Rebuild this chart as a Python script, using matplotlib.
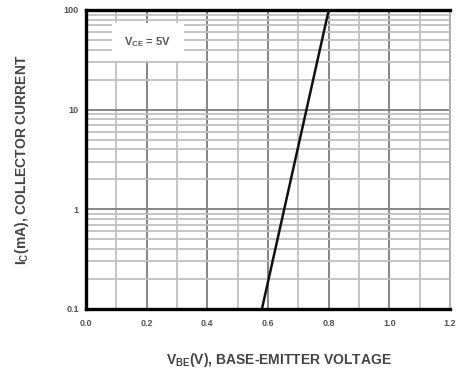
import matplotlib
matplotlib.use("Agg")
import matplotlib.pyplot as plt
import numpy as np
from matplotlib.ticker import FixedLocator, NullFormatter
from matplotlib.patches import Rectangle

vbe = [0.58, 0.80]
ic = [0.1, 100]
xticks = [0.0, 0.2, 0.4, 0.6, 0.8, 1.0, 1.2]
xticklabels = ["0.0", "0.2", "0.4", "0.6", "0.8", "1.0", "1.2"]
yticks = [0.1, 1, 10, 100]
yticklabels = ["0.1", "1", "10", "100"]

plt.rcParams['font.family'] = ['Liberation Sans', 'DejaVu Sans']
fig = plt.figure(figsize=(4.57, 3.69), dpi=100)
ax = fig.add_axes([0.188, 0.163, 0.797, 0.81])
ax.set_yscale('log')
ax.set_xlim(0, 1.2)
ax.set_ylim(0.1, 100)

# grid
xminor = np.arange(0.1, 1.2, 0.2)
ax.xaxis.set_minor_locator(FixedLocator(xminor))
yminor = [m * 10.0 ** d for d in range(-1, 2) for m in range(2, 10)]
ax.yaxis.set_minor_locator(FixedLocator(yminor))
ax.yaxis.set_minor_formatter(NullFormatter())
ax.grid(which='minor', color='#c0c0c0', lw=1.3, zorder=0)
ax.grid(which='major', color='#858585', lw=1.4, zorder=0)
ax.set_axisbelow(True)

ax.set_xticks(xticks)
ax.set_xticklabels(xticklabels)
ax.set_yticks(yticks)
ax.set_yticklabels(yticklabels)
ax.tick_params(which='both', length=0, labelsize=6.5)
ax.tick_params(axis='x', pad=7)
ax.tick_params(axis='y', pad=5)
for lbl in ax.get_xticklabels() + ax.get_yticklabels():
    lbl.set_fontweight('bold')
    lbl.set_color('#555555')

for s in ['top', 'left', 'bottom']:
    ax.spines[s].set_linewidth(2.4)
    ax.spines[s].set_color('black')
ax.spines['right'].set_color('#b0b0b0')
ax.spines['right'].set_linewidth(1.4)

ax.plot(vbe, ic, color='#111111', lw=1.8, zorder=3)

ax.add_patch(Rectangle((0.071, 0.829), 0.198, 0.128, transform=ax.transAxes,
                       fc='white', ec='none', zorder=2.5))
ax.text(0.17, 0.893, r"V$_{\mathregular{CE}}$ = 5V", transform=ax.transAxes,
        fontsize=8, fontweight='bold', color='#555555', va='center', ha='center',
        zorder=4)

ax.set_xlabel(r"V$_{\mathregular{BE}}$(V), BASE-EMITTER VOLTAGE", fontsize=10,
              fontweight='bold', color='#444444', labelpad=17)
ax.xaxis.label.set_x(0.53)
ax.set_ylabel(r"I$_{\mathregular{C}}$(mA), COLLECTOR CURRENT", fontsize=10,
              fontweight='bold', color='#444444', labelpad=24)

fig.savefig("out.png", dpi=100)
